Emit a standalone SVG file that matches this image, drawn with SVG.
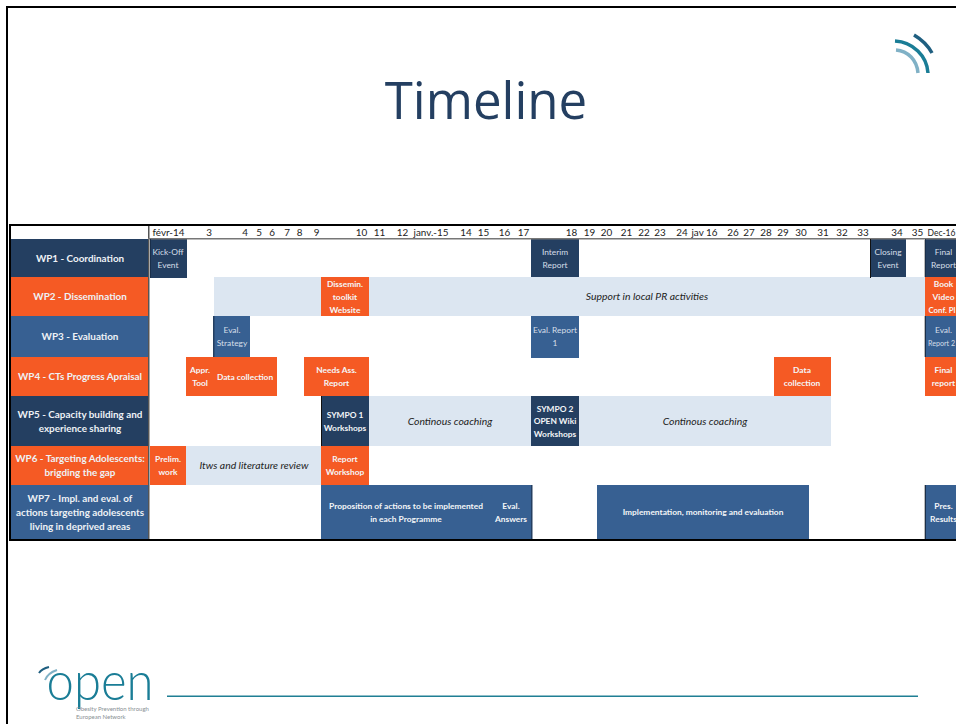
<svg xmlns="http://www.w3.org/2000/svg" width="956" height="724" viewBox="0 0 956 724">
<style>
text{font-family:"Lato","Carlito","Liberation Sans",sans-serif;text-anchor:middle}
.d{fill:#243f61}.o{fill:#f55a24}.b{fill:#376092}.p{fill:#dce6f1}
.wp{font-size:9.9px;font-weight:700;fill:#eef2f6}
.bt{font-size:8.4px;font-weight:700;fill:#f4f6f8}
.lt{font-size:8.4px;fill:#d6dfe9}
.it{font-size:10.4px;font-style:italic;fill:#222}
.h{font-size:9.9px;fill:#222}
.arc{fill:none;stroke-width:3.5}
</style>
<rect width="956" height="724" fill="#fff"/>
<g id="frame"><rect x="6" y="6" width="950" height="2" fill="#000"/><rect x="6" y="6" width="2" height="718" fill="#000"/></g>
<text id="title" x="486" y="118.500" font-size="51" fill="#243f61" style="font-family:'Open Sans',sans-serif">Timeline</text>
<g id="signal-icon">
<path class="arc" stroke="#1a7d96" d="M895 41C913 42 927 56 928 73"/>
<path class="arc" stroke="#80b1c6" d="M896 50C908 51 917 60 918 73"/>
<path class="arc" stroke="#1f5f80" d="M914 35Q926 42 932 53"/>
</g>
<g id="header">
<text class="h" x="168.500" y="236">févr-14</text><text class="h" x="209" y="236">3</text><text class="h" x="245" y="236">4</text><text class="h" x="259" y="236">5</text><text class="h" x="272" y="236">6</text><text class="h" x="287" y="236">7</text><text class="h" x="299.500" y="236">8</text><text class="h" x="316.500" y="236">9</text><text class="h" x="361.500" y="236">10</text><text class="h" x="379.500" y="236">11</text><text class="h" x="402.500" y="236">12</text><text class="h" x="431" y="236">janv.-15</text><text class="h" x="466" y="236">14</text><text class="h" x="483.500" y="236">15</text><text class="h" x="504.500" y="236">16</text><text class="h" x="523.500" y="236">17</text><text class="h" x="571.500" y="236">18</text><text class="h" x="589.500" y="236">19</text><text class="h" x="606.500" y="236">20</text><text class="h" x="626.500" y="236">21</text><text class="h" x="644" y="236">22</text><text class="h" x="660" y="236">23</text><text class="h" x="682" y="236">24</text><text class="h" x="704.500" y="236">jav 16</text><text class="h" x="733" y="236">26</text><text class="h" x="749" y="236">27</text><text class="h" x="766" y="236">28</text><text class="h" x="783" y="236">29</text><text class="h" x="801" y="236">30</text><text class="h" x="823" y="236">31</text><text class="h" x="842" y="236">32</text><text class="h" x="863" y="236">33</text><text class="h" x="897" y="236">34</text><text class="h" x="917.500" y="236">35</text><text class="h" x="941.500" y="236" textLength="28" lengthAdjust="spacingAndGlyphs">Dec-16</text>
</g>
<g id="WP1">
<rect class="d" x="11" y="239" width="138" height="38"/>
<text class="wp" x="80" y="262">WP1 - Coordination</text>
<rect class="d" x="150" y="239" width="37" height="39"/>
<text class="lt" x="168" y="255">Kick-Off</text><text class="lt" x="168" y="268">Event</text>
<rect class="d" x="531" y="239" width="48" height="38"/>
<text class="lt" x="555" y="255">Interim</text><text class="lt" x="555" y="268">Report</text>
<rect class="d" x="870" y="239" width="36" height="39"/>
<text class="lt" x="888" y="255">Closing</text><text class="lt" x="888" y="268">Event</text>
<rect class="d" x="925" y="239" width="31" height="38"/>
<text class="lt" x="943.500" y="255">Final</text><text class="lt" x="943.500" y="268">Report</text>
</g>
<g id="WP2">
<rect class="o" x="11" y="277" width="138" height="39"/>
<text class="wp" x="80" y="300">WP2 - Dissemination</text>
<rect class="p" x="214" y="277" width="711" height="39"/>
<rect class="o" x="321" y="277" width="48" height="39"/>
<text class="bt" x="345" y="287">Dissemin.</text><text class="bt" x="345" y="300">toolkit</text><text class="bt" x="345" y="313">Website</text>
<text class="it" x="647" y="300">Support in local PR activities</text>
<rect class="o" x="925" y="277" width="31" height="39"/>
<text class="bt" x="943.500" y="287">Book</text><text class="bt" x="943.500" y="300">Video</text><text class="bt" x="942" y="313" textLength="27" lengthAdjust="spacingAndGlyphs">Conf. Pl</text>
</g>
<g id="WP3">
<rect class="b" x="11" y="316" width="138" height="41"/>
<text class="wp" x="80" y="340">WP3 - Evaluation</text>
<rect class="b" x="214" y="316" width="36" height="41"/><rect class="d" x="213" y="316" width="1.500" height="41"/>
<text class="lt" x="232" y="333">Eval.</text><text class="lt" x="232" y="346">Strategy</text>
<rect class="b" x="531" y="316" width="48" height="42"/>
<text class="lt" x="555" y="333">Eval. Report</text><text class="lt" x="555" y="346">1</text>
<rect class="b" x="925" y="316" width="31" height="41"/>
<text class="lt" x="943.500" y="333">Eval.</text><text class="lt" x="941.500" y="346" textLength="27" lengthAdjust="spacingAndGlyphs">Report 2</text>
</g>
<g id="WP4">
<rect class="o" x="11" y="357" width="138" height="39"/>
<text class="wp" x="80" y="380">WP4 - CTs Progress Apraisal</text>
<rect class="o" x="186" y="357" width="91" height="39"/>
<text class="bt" x="200" y="373">Appr.</text><text class="bt" x="200" y="386">Tool</text>
<text class="bt" x="245" y="380">Data collection</text>
<rect class="o" x="304" y="357" width="65" height="39"/>
<text class="bt" x="336.500" y="373">Needs Ass.</text><text class="bt" x="336.500" y="386">Report</text>
<rect class="o" x="774" y="357" width="57" height="39"/>
<text class="bt" x="802" y="373">Data</text><text class="bt" x="802" y="386">collection</text>
<rect class="o" x="925" y="357" width="31" height="39"/>
<text class="bt" x="943.500" y="373">Final</text><text class="bt" x="943.500" y="386">report</text>
</g>
<g id="WP5">
<rect class="d" x="11" y="396" width="138" height="50"/>
<text class="wp" x="80" y="418">WP5 - Capacity building and</text><text class="wp" x="80" y="432">experience sharing</text>
<rect class="p" x="369" y="396" width="462" height="50"/>
<rect class="d" x="321" y="396" width="48" height="50"/>
<text class="bt" x="345" y="418">SYMPO 1</text><text class="bt" x="345" y="431">Workshops</text>
<text class="it" x="450" y="425">Continous coaching</text>
<rect class="d" x="531" y="396" width="48" height="50"/>
<text class="bt" x="555" y="412">SYMPO 2</text><text class="bt" x="555" y="424">OPEN Wiki</text><text class="bt" x="555" y="437">Workshops</text>
<text class="it" x="705" y="425">Continous coaching</text>
</g>
<g id="WP6">
<rect class="o" x="11" y="446" width="138" height="39"/>
<text class="wp" x="80" y="462">WP6 - Targeting Adolescents:</text><text class="wp" x="80" y="476">brigding the gap</text>
<rect class="o" x="150" y="446" width="36" height="39"/>
<text class="bt" x="168" y="462">Prelim.</text><text class="bt" x="168" y="475">work</text>
<rect class="p" x="186" y="446" width="135" height="39"/>
<text class="it" x="254" y="469">Itws and literature review</text>
<rect class="o" x="321" y="446" width="48" height="39"/>
<text class="bt" x="345" y="462">Report</text><text class="bt" x="345" y="475">Workshop</text>
</g>
<g id="WP7">
<rect class="b" x="11" y="485" width="138" height="54"/>
<text class="wp" x="80" y="502">WP7 - Impl. and eval. of</text><text class="wp" x="80" y="516">actions targeting adolescents</text><text class="wp" x="80" y="530">living in deprived areas</text>
<rect class="b" x="321" y="485" width="210" height="54"/><rect class="d" x="531" y="485" width="1.500" height="54"/>
<text class="bt" x="406" y="509">Proposition of actions to be implemented</text><text class="bt" x="406" y="522">in each Programme</text>
<text class="bt" x="511" y="509">Eval.</text><text class="bt" x="511" y="522">Answers</text>
<rect class="b" x="597" y="485" width="212" height="54"/>
<text class="bt" x="703" y="515">Implementation, monitoring and evaluation</text>
<rect class="b" x="925" y="485" width="31" height="54"/>
<text class="bt" x="943.500" y="509">Pres.</text><text class="bt" x="943.500" y="522">Results</text>
</g>
<g id="grid">
<rect x="148" y="226" width="1.500" height="313" fill="#555"/>
<rect x="148" y="238" width="808" height="1.500" fill="#777"/>
<rect x="924" y="239" width="1" height="38" fill="#bbb"/><rect x="924" y="316" width="1" height="41" fill="#bbb"/><rect x="924" y="485" width="1" height="54" fill="#bbb"/>
<rect x="925" y="239" width="1" height="38" fill="#1a2f4a"/><rect x="925" y="316" width="1" height="41" fill="#1a2f4a"/><rect x="925" y="485" width="1" height="54" fill="#1a2f4a"/>
<rect x="321" y="396" width="1" height="50" fill="#111"/><rect x="870" y="239" width="1" height="39" fill="#111"/><rect x="150" y="239" width="1" height="39" fill="#1a2f4a"/>
<rect x="9" y="224" width="947" height="2" fill="#000"/>
<rect x="9" y="224" width="2" height="317" fill="#000"/>
<rect x="9" y="539" width="947" height="2" fill="#000"/>
</g>
<g id="open-logo">
<text x="100" y="700" font-size="53" fill="#1a7d96" textLength="107" lengthAdjust="spacingAndGlyphs" style="font-weight:300">open</text>
<path class="arc" stroke="#1f5f80" style="stroke-width:2" d="M39 673C41 670 45 668 49 667"/>
<path class="arc" stroke="#80b1c6" style="stroke-width:2" d="M45 680C47 675 51 672 57 670"/>
<text x="76" y="710.500" font-size="6" fill="#8a8f94" style="text-anchor:start">Obesity Prevention through</text>
<text x="76" y="718.500" font-size="6" fill="#8a8f94" style="text-anchor:start">European Network</text>
<rect x="167" y="695.500" width="751" height="1.500" fill="#1f7f94"/>
</g>
</svg>
